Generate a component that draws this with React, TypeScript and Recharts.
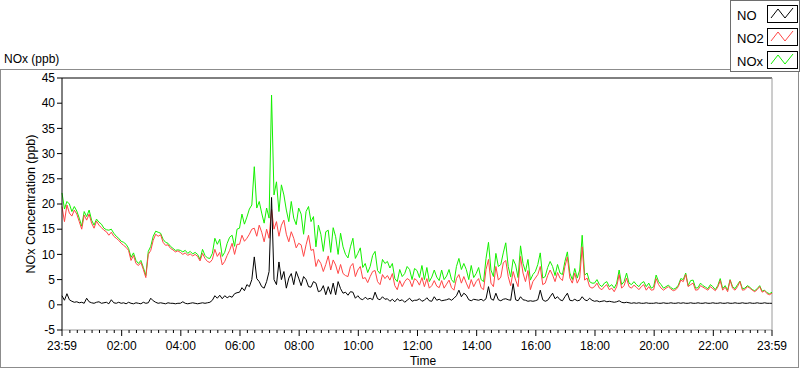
import React from 'react'
import { Line, LineChart, ReferenceLine, XAxis, YAxis } from 'recharts'

// one sample every 5 minutes, starting 23:59 the evening before
const sampleStep = 5

const no2Values = [
  19.5, 16.5, 19.8, 18.2, 17.6, 18.8, 18.0, 16.5, 15.0, 17.8, 16.8, 18.0,
  16.2, 15.2, 16.6, 15.8, 15.3, 14.8, 14.5, 13.8, 14.4, 13.6, 13.2, 12.8,
  12.2, 11.8, 11.4, 10.8, 8.8, 9.8, 8.2, 7.8, 8.4, 7.0, 5.4, 10.0,
  10.8, 12.8, 14.0, 13.6, 13.9, 12.4, 11.8, 11.9, 11.2, 10.9, 10.5, 10.7,
  10.4, 10.0, 10.3, 9.8, 10.1, 9.7, 10.0, 9.6, 8.7, 10.2, 9.2, 8.6,
  8.4, 9.0, 11.0, 9.6, 10.4, 7.9, 8.6, 9.8, 10.8, 12.2, 10.0, 12.0,
  12.0, 13.8, 12.6, 13.2, 14.0, 15.0, 15.2, 13.6, 15.8, 14.4, 12.5, 15.0,
  13.2, 19.0, 15.0, 16.5, 13.6, 15.8, 16.8, 14.0, 12.5, 14.5, 13.2, 11.3,
  12.2, 11.9, 9.6, 11.9, 13.8, 10.8, 11.0, 7.6, 9.0, 8.2, 6.6, 8.0,
  9.7, 6.9, 8.9, 7.9, 6.2, 8.0, 6.2, 5.8, 5.6, 7.6, 8.2, 5.6,
  6.9, 7.6, 5.2, 5.4, 4.4, 5.6, 6.6, 6.8, 4.6, 4.0, 6.0, 5.2,
  5.8, 4.9, 6.2, 3.8, 3.0, 4.8, 3.6, 4.6, 5.2, 4.9, 3.6, 5.2,
  4.8, 3.9, 5.4, 3.6, 5.2, 3.3, 3.8, 4.8, 3.7, 3.4, 4.8, 3.3,
  4.1, 4.9, 3.4, 2.9, 5.2, 6.0, 4.3, 5.6, 4.3, 3.2, 5.0, 3.6,
  4.6, 5.2, 3.4, 3.0, 7.0, 9.0, 4.3, 3.6, 7.6, 4.9, 5.5, 8.3,
  8.8, 5.6, 3.8, 6.6, 4.9, 3.6, 9.6, 6.3, 4.6, 6.8, 3.0, 4.6,
  5.3, 6.0, 7.6, 4.0, 4.3, 5.8, 6.9, 5.9, 4.6, 6.4, 5.3, 4.8,
  7.6, 9.5, 5.3, 4.3, 6.3, 4.3, 5.3, 11.5, 4.9, 5.3, 3.6, 3.3,
  3.6, 4.3, 3.3, 3.0, 3.6, 4.0, 3.0, 3.3, 2.6, 3.6, 6.0, 3.3,
  3.8, 5.3, 3.6, 3.3, 3.9, 3.5, 3.0, 3.6, 4.0, 2.9, 3.6, 2.9,
  3.0, 5.2, 4.0, 3.3, 2.9, 3.3, 3.6, 3.1, 2.8, 3.0, 3.6, 4.9,
  4.6, 6.0, 3.6, 4.0, 4.3, 2.9, 3.0, 3.8, 3.5, 3.2, 2.9, 3.6,
  3.2, 2.8, 3.5, 4.8, 2.9, 3.5, 2.6, 4.9, 3.3, 2.9, 3.6, 4.6,
  2.9, 3.0, 3.6, 3.3, 2.9, 2.6, 3.0, 3.6, 2.5, 2.8, 2.2, 2.0,
  2.3,
]

const noxValues = [
  22.2, 19.0, 20.5, 20.0, 18.5, 19.5, 18.6, 17.2, 15.6, 18.5, 17.5, 18.8,
  16.8, 15.8, 17.0, 16.4, 16.0, 15.2, 14.9, 14.8, 15.0, 14.2, 13.6, 13.2,
  12.6, 12.4, 12.0, 11.2, 9.4, 10.3, 8.8, 8.2, 8.8, 7.4, 5.8, 10.6,
  11.6, 13.6, 14.6, 14.4, 14.2, 13.0, 12.4, 12.2, 11.6, 11.2, 10.8, 10.9,
  10.8, 10.5, 10.8, 10.2, 10.6, 10.1, 10.4, 10.0, 9.0, 11.0, 9.8, 9.3,
  9.2, 10.2, 13.2, 12.0, 13.0, 9.6, 10.4, 12.2, 13.4, 13.8, 11.6, 15.0,
  15.2, 18.0, 16.0, 17.4, 19.0, 19.8, 27.4, 19.2, 20.5, 18.2, 16.2, 19.2,
  17.2, 41.6, 21.8, 24.4, 18.5, 23.8, 21.8, 18.8, 16.5, 20.5, 17.2, 15.9,
  19.2, 18.0, 14.0, 18.5, 19.5, 16.5, 17.5, 11.5, 15.8, 14.0, 10.6, 14.5,
  14.8, 10.4, 15.3, 13.5, 10.0, 14.2, 11.5, 10.0, 9.3, 11.5, 13.2, 9.2,
  10.2, 11.3, 7.4, 8.2, 6.4, 7.6, 9.8, 10.6, 6.8, 6.2, 9.0, 8.2,
  8.6, 7.3, 8.2, 5.2, 4.6, 7.0, 5.6, 6.2, 7.6, 7.0, 5.0, 7.2,
  6.8, 5.4, 7.8, 5.0, 7.4, 4.6, 5.5, 6.9, 5.5, 4.8, 6.9, 5.0,
  5.7, 7.0, 5.0, 4.4, 7.6, 9.2, 7.0, 8.2, 7.0, 5.0, 7.8, 5.4,
  6.2, 7.4, 5.0, 4.6, 9.2, 12.4, 6.9, 5.6, 10.2, 7.6, 8.0, 10.3,
  12.3, 7.6, 5.5, 9.0, 7.9, 5.4, 11.7, 8.2, 6.6, 9.0, 4.9, 6.0,
  6.6, 8.0, 10.3, 5.3, 5.6, 7.4, 8.6, 7.6, 5.8, 8.0, 6.3, 6.0,
  8.6, 10.5, 6.3, 5.0, 7.2, 5.3, 6.9, 13.8, 5.9, 6.3, 4.6, 4.3,
  4.3, 5.0, 4.0, 3.6, 4.3, 4.6, 3.6, 4.0, 3.3, 4.3, 6.9, 4.0,
  4.6, 6.3, 4.3, 4.0, 4.6, 4.0, 3.6, 4.3, 4.6, 3.6, 4.3, 3.3,
  3.6, 5.9, 4.6, 4.0, 3.3, 3.6, 3.9, 3.4, 3.1, 3.3, 3.9, 5.2,
  5.0, 6.3, 3.8, 4.8, 4.9, 3.3, 3.4, 4.3, 3.8, 3.5, 3.2, 4.0,
  3.6, 3.0, 3.8, 5.2, 3.2, 3.8, 2.9, 5.0, 3.6, 3.2, 4.0, 4.7,
  3.2, 3.3, 3.8, 3.5, 3.0, 2.8, 3.2, 3.8, 2.7, 2.9, 2.4, 2.2,
  2.5,
]

const noValues = [
  1.8, 0.9, 2.2, 1.0, 0.7, 0.5, 0.6, 0.4, 0.5, 0.3, 1.3, 0.6,
  0.4, 0.3, 0.5, 0.6, 0.3, 0.4, 0.5, 0.2, 1.0, 0.4, 0.3, 0.5,
  0.3, 0.4, 0.2, 0.5, 0.3, 0.2, 0.4, 0.3, 0.2, 0.5, 0.3, 0.4,
  1.3, 0.8, 0.5, 0.3, 0.4, 0.3, 0.2, 0.4, 0.3, 0.3, 0.2, 0.3,
  0.3, 0.6, 0.3, 0.2, 0.3, 0.4, 0.3, 0.2, 0.3, 0.4, 0.3, 0.4,
  0.5, 0.9, 1.8, 1.3, 1.9, 1.2, 1.8, 1.4, 1.7, 1.5, 2.2, 2.4,
  2.5, 3.4, 2.8, 4.0, 3.6, 5.0, 9.5, 5.2, 4.6, 3.6, 3.3, 4.6,
  6.6, 21.3, 5.0, 4.0, 8.5, 5.0, 6.6, 3.3, 5.3, 6.2, 4.0, 6.6,
  5.3, 3.8, 5.6, 5.0, 3.6, 3.5, 4.6, 4.3, 2.6, 2.8, 3.8, 2.0,
  3.6, 2.1, 4.3, 2.0, 4.6, 3.2, 2.3, 2.5, 1.9, 2.6, 2.5, 1.3,
  1.8, 1.2, 1.0, 1.5, 1.1, 1.3, 1.0, 2.5, 1.2, 1.0, 1.6, 1.1,
  1.2, 0.7, 1.1, 0.6, 1.2, 0.8, 1.0, 0.5, 0.9, 1.3, 0.7, 0.9,
  0.9, 1.2, 0.7, 0.9, 1.4, 0.8, 0.7, 1.6, 0.9, 1.1, 0.8, 0.9,
  1.0, 1.2, 0.9, 1.3, 1.8, 2.9, 1.6, 2.3, 1.9, 1.0, 0.8, 1.1,
  1.0, 0.9, 1.1, 0.8, 1.2, 3.6, 1.2, 0.9, 2.3, 1.0, 0.8, 1.1,
  1.2, 1.0, 0.9, 4.2, 1.0, 0.8, 1.6, 1.0, 0.9, 0.7, 0.8, 0.7,
  0.8, 1.0, 2.9, 1.0, 0.7, 0.9, 1.6, 2.3, 1.2, 1.6, 1.0, 0.8,
  1.6, 2.3, 0.9, 0.8, 1.1, 0.8, 0.9, 1.6, 1.0, 0.8, 1.3, 0.9,
  0.7, 0.8, 0.6, 0.7, 0.8, 0.6, 0.7, 0.6, 0.5, 0.6, 0.8, 0.5,
  0.4, 0.5, 0.4, 0.3, 0.4, 0.3, 0.4, 0.3, 0.3, 0.4, 0.3, 0.3,
  0.3, 0.4, 0.3, 0.3, 0.4, 0.3, 0.3, 0.4, 0.3, 0.3, 0.4, 0.3,
  0.4, 0.3, 0.3, 0.4, 0.3, 0.3, 0.4, 0.3, 0.3, 0.4, 0.3, 0.3,
  0.4, 0.3, 0.3, 0.4, 0.3, 0.3, 0.4, 0.3, 0.3, 0.4, 0.3, 0.3,
  0.4, 0.3, 0.3, 0.4, 0.3, 0.3, 0.4, 0.3, 0.3, 0.4, 0.3, 0.3,
  0.3,
]

const yTicks = [-5, 0, 5, 10, 15, 20, 25, 30, 35, 40, 45]
const majorTicks = [0, 121, 241, 361, 481, 601, 721, 841, 961, 1081, 1201, 1321, 1440]
const timeLabels = ['23:59', '02:00', '04:00', '06:00', '08:00', '10:00', '12:00', '14:00', '16:00', '18:00', '20:00', '22:00', '23:59']
// small ticks every quarter hour between the labelled ones
const minorTicks = [
  16, 31, 46, 61, 76, 91, 106, 136, 151, 166, 181, 196, 211, 226,
  256, 271, 286, 301, 316, 331, 346, 376, 391, 406, 421, 436, 451, 466,
  496, 511, 526, 541, 556, 571, 586, 616, 631, 646, 661, 676, 691, 706,
  736, 751, 766, 781, 796, 811, 826, 856, 871, 886, 901, 916, 931, 946,
  976, 991, 1006, 1021, 1036, 1051, 1066, 1096, 1111, 1126, 1141, 1156, 1171, 1186,
  1216, 1231, 1246, 1261, 1276, 1291, 1306, 1336, 1351, 1366, 1381, 1396, 1411, 1426,
]
const xTicks = [...majorTicks, ...minorTicks].sort((a, b) => a - b)

const data = no2Values.map((v, i) => ({
  t: i * sampleStep,
  no: noValues[i],
  no2: v,
  nox: noxValues[i],
}))

const FONT = '"Liberation Sans", Arial, sans-serif'
const NO_COLOR = '#000000'
const NO2_COLOR = '#ff4646'
const NOX_COLOR = '#14f000'

const TimeTick = (props: any) => {
  const { x, y, payload } = props
  const idx = majorTicks.indexOf(payload.value)
  const major = idx >= 0
  return (
    <g>
      <line x1={x} x2={x} y1={y} y2={y + (major ? 6 : 3)} stroke="#000" />
      {major && (
        <text x={x} y={y + 20} textAnchor="middle" fontSize={12} fill="#000" fontFamily={FONT}>
          {timeLabels[idx]}
        </text>
      )}
    </g>
  )
}

const legendRows = [
  { name: 'NO', color: NO_COLOR },
  { name: 'NO2', color: NO2_COLOR },
  { name: 'NOx', color: NOX_COLOR },
]

const PlotLegend = () => (
  <div style={{ position: 'absolute', left: 730, top: 0, width: 68, height: 70, border: '1px solid #6e6e6e', background: '#fff' }}>
    <svg width={68} height={70} style={{ display: 'block' }}>
      {legendRows.map((row, i) => (
        <g key={row.name} transform={`translate(0, ${i * 23})`}>
          <text x={6} y={19} fontSize={13} fontFamily={FONT} fill="#000">{row.name}</text>
          <rect x={36.5} y={4.5} width={30} height={17} fill="#fff" stroke="#000" />
          <polyline points="40,17 47,8 54,17 62,7" fill="none" stroke={row.color} />
        </g>
      ))}
    </svg>
  </div>
)

export default function App() {
  return (
    <div style={{ position: 'absolute', left: 0, top: 0, width: 800, height: 369, background: '#fff', fontFamily: FONT }}>
      <div style={{ position: 'absolute', left: 0, top: 69, width: 797, height: 297, border: '1px solid #8c8c8c' }} />
      <svg width={800} height={369} style={{ position: 'absolute', left: 0, top: 0 }}>
        <text x={4} y={63} fontSize={12} fontFamily={FONT} fill="#000">NOx (ppb)</text>
        <text x={0} y={0} fontSize={12.5} fontFamily={FONT} fill="#000" textAnchor="middle" transform="translate(35, 204) rotate(-90)">
          NOx Concentration (ppb)
        </text>
        <text x={423} y={365} fontSize={12} fontFamily={FONT} fill="#000" textAnchor="middle">Time</text>
      </svg>
      <div style={{ position: 'absolute', left: 0, top: 0 }}>
        <LineChart width={800} height={369} data={data} margin={{ top: 78, right: 28, bottom: 0, left: 0 }} style={{ fontFamily: FONT }}>
          <XAxis
            dataKey="t"
            type="number"
            domain={[0, 1440]}
            ticks={xTicks}
            interval={0}
            height={39}
            tickSize={0}
            tickMargin={0}
            tickLine={false}
            axisLine={{ stroke: '#9a9a9a' }}
            tick={<TimeTick />}
          />
          <YAxis
            type="number"
            domain={[-5, 45]}
            ticks={yTicks}
            interval={0}
            width={62}
            tickSize={5}
            tickMargin={2}
            allowDataOverflow
            axisLine={{ stroke: '#000' }}
            tickLine={{ stroke: '#000' }}
            tick={{ fill: '#000', fontSize: 12 }}
          />
          <ReferenceLine y={45} stroke="#000" />
          <ReferenceLine x={1440} stroke="#9a9a9a" />
          <Line type="linear" dataKey="nox" stroke={NOX_COLOR} strokeWidth={1} dot={false} isAnimationActive={false} />
          <Line type="linear" dataKey="no2" stroke={NO2_COLOR} strokeWidth={1} dot={false} isAnimationActive={false} />
          <Line type="linear" dataKey="no" stroke={NO_COLOR} strokeWidth={1} dot={false} isAnimationActive={false} />
        </LineChart>
      </div>
      <PlotLegend />
    </div>
  )
}
